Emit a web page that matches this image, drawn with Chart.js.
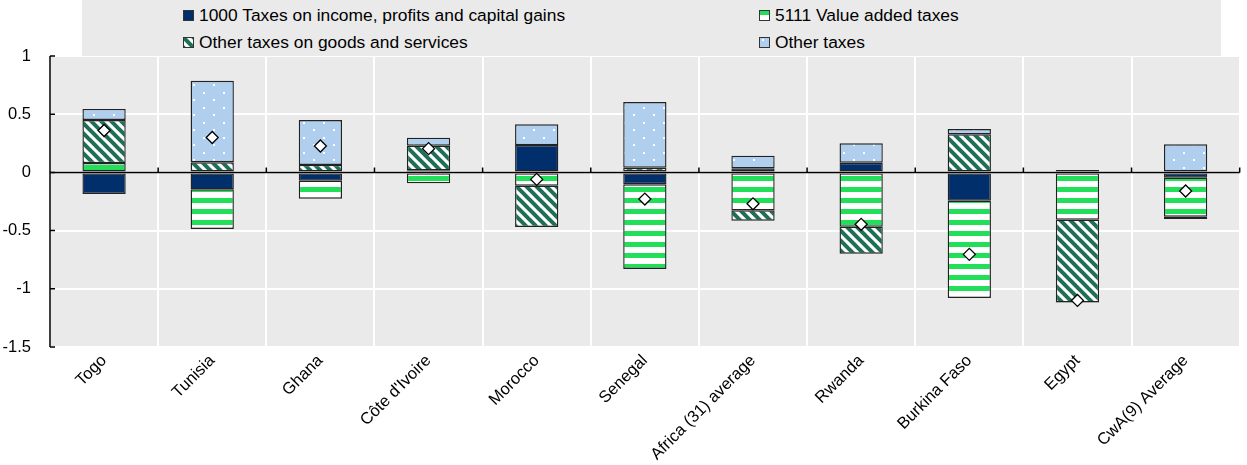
<!DOCTYPE html>
<html><head><meta charset="utf-8">
<script src="https://cdn.jsdelivr.net/npm/chart.js@4"></script>
<style>
html,body{margin:0;padding:0;background:#fff;}
#wrap{position:relative;width:1247px;height:465px;overflow:hidden;}
#legend{position:absolute;left:82px;top:0;width:1139px;height:56px;background:#eaeaea;font-family:"Liberation Sans",Arial,sans-serif;font-size:17.4px;color:#000;}
.item{position:absolute;display:flex;align-items:center;white-space:nowrap;height:20px;line-height:20px;}
.item canvas{width:11px;height:11px;margin-right:5px;display:block;}
#c{position:absolute;left:0;top:0;}
</style></head>
<body>
<div id="wrap">
<canvas id="c" width="1247" height="465"></canvas>
<div id="legend"></div>
</div>
<script>
// ---- data ----
const categories = ['Togo','Tunisia','Ghana',"Côte d'Ivoire",'Morocco','Senegal','Africa (31) average','Rwanda','Burkina Faso','Egypt','CwA(9) Average'];
const incomeTaxes = [-0.185, -0.145, -0.071, 0.018, 0.235, -0.102, 0.035, 0.083, -0.243, 0.02, -0.045];
const vatTaxes    = [0.08, -0.341, -0.155, -0.094, -0.114, -0.728, -0.326, -0.466, -0.836, -0.406, -0.335];
const goodsTaxes  = [0.37, 0.087, 0.064, 0.212, -0.355, 0.04, -0.089, -0.232, 0.327, -0.71, -0.02];
const otherTaxes  = [0.095, 0.70, 0.386, 0.068, 0.178, 0.565, 0.109, 0.167, 0.046, -0.004, 0.241];
const totalChange = [0.36, 0.30, 0.227, 0.204, -0.06, -0.229, -0.27, -0.446, -0.704, -1.10, -0.16];
const seriesNames = ['1000 Taxes on income, profits and capital gains','5111 Value added taxes','Other taxes on goods and services','Other taxes'];
const yTicks = [1, 0.5, 0, -0.5, -1, -1.5];

// ---- styles ----
const NAVY='#002f6c', GREEN='#22df5a', DKGREEN='#1e6f55', LBLUE='#b0cfee', BG='#eaeaea';
function makeTile(w,h,draw){const c=document.createElement('canvas');c.width=w;c.height=h;draw(c.getContext('2d'),w,h);return c;}
const vatTile = makeTile(11,11,(x,w,h)=>{x.fillStyle='#fff';x.fillRect(0,0,w,h);x.fillStyle=GREEN;x.fillRect(0,0,w,5);});
const goodsTile = makeTile(10,10,(x,w,h)=>{x.fillStyle='#fff';x.fillRect(0,0,w,h);x.strokeStyle=DKGREEN;x.lineWidth=4;
  for(const o of [-10,0,10]){x.beginPath();x.moveTo(o-2,-2);x.lineTo(o+12,12);x.stroke();}});
const dotTile = makeTile(20,15,(x,w,h)=>{x.fillStyle=LBLUE;x.fillRect(0,0,w,h);x.fillStyle='#fff';x.fillRect(3,2,2,2);x.fillRect(13,9,2,2);});
const canvas=document.getElementById('c');
const cctx=canvas.getContext('2d');
const fills=[NAVY, cctx.createPattern(vatTile,'repeat'), cctx.createPattern(goodsTile,'repeat'), cctx.createPattern(dotTile,'repeat')];

// ---- legend ----
const legend=document.getElementById('legend');
const legPos=[[101,5],[677,5],[101,32],[677,32]];
seriesNames.forEach((n,i)=>{
  const d=document.createElement('div');d.className='item';d.style.left=legPos[i][0]+'px';d.style.top=legPos[i][1]+'px';
  const sw=document.createElement('canvas');sw.width=11;sw.height=11;const s=sw.getContext('2d');
  s.fillStyle = i===0?NAVY:s.createPattern([null,vatTile,goodsTile,dotTile][i],'repeat');
  s.fillRect(0,0,11,11);s.strokeStyle='#333';s.lineWidth=1;s.strokeRect(0.5,0.5,10,10);
  const t=document.createElement('span');t.textContent=n;
  d.appendChild(sw);d.appendChild(t);legend.appendChild(d);
});

// ---- plugins ----
const bgPlugin={id:'bg',beforeDraw(ch){const a=ch.chartArea,c=ch.ctx;c.save();c.fillStyle=BG;c.fillRect(a.left,a.top,a.right-a.left,a.bottom-a.top);c.restore();}};
const axisPlugin={id:'axes',beforeDatasetDraw(ch,args){
  if(args.index!==4) return;
  const a=ch.chartArea,c=ch.ctx,x=ch.scales.x,y=ch.scales.y;
  c.save();c.strokeStyle='#000';c.lineWidth=1.5;
  const y0=y.getPixelForValue(0);
  c.beginPath();c.moveTo(a.left,y0);c.lineTo(a.right,y0);c.stroke();
  c.beginPath();
  const step=x.getPixelForValue(1)-x.getPixelForValue(0);
  for(let i=0;i<categories.length;i++){const xb=x.getPixelForValue(i)+step/2;c.moveTo(xb,y0);c.lineTo(xb,y0-5);}
  c.stroke();
  c.beginPath();c.moveTo(a.left,a.top);c.lineTo(a.left,a.bottom);
  yTicks.forEach(v=>{const py=y.getPixelForValue(v);c.moveTo(a.left,py);c.lineTo(a.left+5,py);});
  c.stroke();c.restore();
}};

const barBase={borderColor:'#222',borderWidth:1.4,borderSkipped:false,barPercentage:0.4,categoryPercentage:1.0,order:1,stack:'s'};
new Chart(canvas,{
  type:'bar',
  data:{labels:categories,datasets:[
    Object.assign({label:seriesNames[0],data:incomeTaxes,backgroundColor:fills[0]},barBase),
    Object.assign({label:seriesNames[1],data:vatTaxes,backgroundColor:fills[1]},barBase),
    Object.assign({label:seriesNames[2],data:goodsTaxes,backgroundColor:fills[2]},barBase),
    Object.assign({label:seriesNames[3],data:otherTaxes,backgroundColor:fills[3]},barBase),
    {type:'line',label:'Total',data:totalChange,showLine:false,pointStyle:'rectRot',pointRadius:6,pointBackgroundColor:'#fff',pointBorderColor:'#000',pointBorderWidth:1.3,order:0,stack:'total'}
  ]},
  options:{
    responsive:false,animation:false,
    layout:{padding:{top:56,right:1,left:0,bottom:0}},
    plugins:{legend:{display:false},tooltip:{enabled:false}},
    scales:{
      x:{stacked:true,offset:true,
        grid:{color:'#fff',lineWidth:2,offset:true,drawTicks:false},
        border:{display:false},
        ticks:{color:'#000',font:{family:'"Liberation Sans", Arial, sans-serif',size:16.5},maxRotation:45,minRotation:45,padding:4,autoSkip:false},
        afterFit(s){s.height=118;}},
      y:{stacked:true,min:-1.5,max:1,
        grid:{color:'#fff',lineWidth:2,drawTicks:false},
        border:{display:false},
        ticks:{stepSize:0.5,color:'#000',font:{family:'"Liberation Sans", Arial, sans-serif',size:16.5},padding:19,callback:(v)=>String(Math.round(v*10)/10)},
        afterFit(s){s.width=50;}}
    }
  },
  plugins:[bgPlugin,axisPlugin]
});
</script>
</body></html>
